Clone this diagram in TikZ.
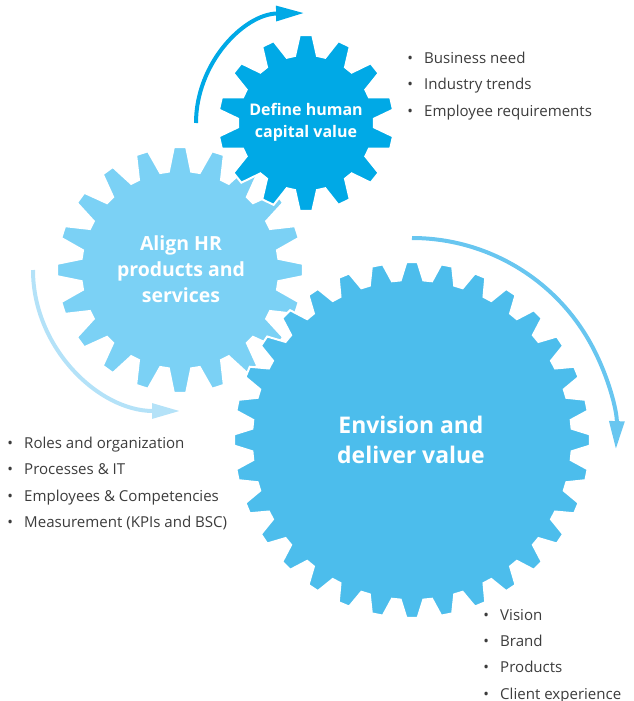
\documentclass[tikz,border=0pt]{standalone}
\usepackage{fontspec}
\setmainfont{Open Sans}
\usetikzlibrary{arrows.meta}

\definecolor{gearDark}{RGB}{0,169,230}
\definecolor{gearLight}{RGB}{123,209,245}
\definecolor{gearMid}{RGB}{76,189,236}
\definecolor{arrRight}{RGB}{104,198,240}
\definecolor{arrLeft}{RGB}{180,226,248}
\definecolor{listGray}{RGB}{60,60,60}

% gear: centre, teeth, inner r, outer r, offset angle, colour
\newcommand{\gearfill}[6]{%
  \pgfmathsetmacro{\gp}{360/#2}
  \fill[#6, draw=white, line width=1.5, shift={#1}]
    ({#5+0.64*\gp}:#3) foreach \k in {1,...,#2} {
      -- ({#5+\k*\gp-0.36*\gp}:#3) -- ({#5+\k*\gp-0.16*\gp}:#4)
      -- ({#5+\k*\gp+0.16*\gp}:#4) -- ({#5+\k*\gp+0.36*\gp}:#3)
    } -- cycle;
}
\newcommand{\bul}{\textbullet\hspace{0.75em}}

\tikzset{
  gearlbl/.style={text=white, font=\bfseries, align=center, inner sep=0.75pt},
  bullist/.style={text=listGray, align=left, inner sep=0pt, font=\fontsize{11.3}{19.7}\selectfont},
  cycarrow/.style={line width=3pt, -{Triangle[length=21pt, width=11pt]}}
}

\begin{document}
\begin{tikzpicture}[x=0.75pt,y=0.75pt,yscale=-1,xscale=1]
\useasboundingbox (0,0) rectangle (634,701);

% gear centres
\coordinate (dg) at (306,123);
\coordinate (mg) at (180,270);
\coordinate (lg) at (412,440);

% Gears
\gearfill{(mg)}{20}{99}{123}{0}{gearLight}
\gearfill{(dg)}{14}{68}{88}{12.86}{gearDark}
\gearfill{(lg)}{32}{160}{178}{0}{gearMid}

% Arrows round the gears
\draw[cycarrow, gearDark] ([shift={(180:110)}]dg) arc[start angle=180, end angle=269, radius=110];
\draw[cycarrow, arrRight] ([shift={(270:202)}]lg) arc[start angle=270, end angle=362, radius=204];
\draw[cycarrow, arrLeft] ([shift={(180:147)}]mg) arc[start angle=180, end angle=90, x radius=147, y radius=141];

% Text Node
\node[gearlbl, font=\bfseries\fontsize{12}{16.5}\selectfont] (dgtxt) at (306,122) {Define human\\capital value};
% Text Node
\node[gearlbl, font=\bfseries\fontsize{14.6}{19.5}\selectfont] (mgtxt) at (181,269) {Align HR\\products and\\services};
% Text Node
\node[gearlbl, font=\bfseries\fontsize{17.2}{22.5}\selectfont] (lgtxt) at (411,440) {Envision and\\deliver value};

% Text Node
\node[bullist, anchor=north west] (needs) at (407,52) {\bul Business need\\\bul Industry trends\\\bul Employee requirements};
% Text Node
\node[bullist, anchor=north west] (align) at (7,437) {\bul Roles and organization\\\bul Processes \& IT\\\bul Employees \& Competencies\\\bul Measurement (KPIs and BSC)};
% Text Node
\node[bullist, anchor=north west] (deliver) at (483,609) {\bul Vision\\\bul Brand\\\bul Products\\\bul Client experience};

\end{tikzpicture}
\end{document}
